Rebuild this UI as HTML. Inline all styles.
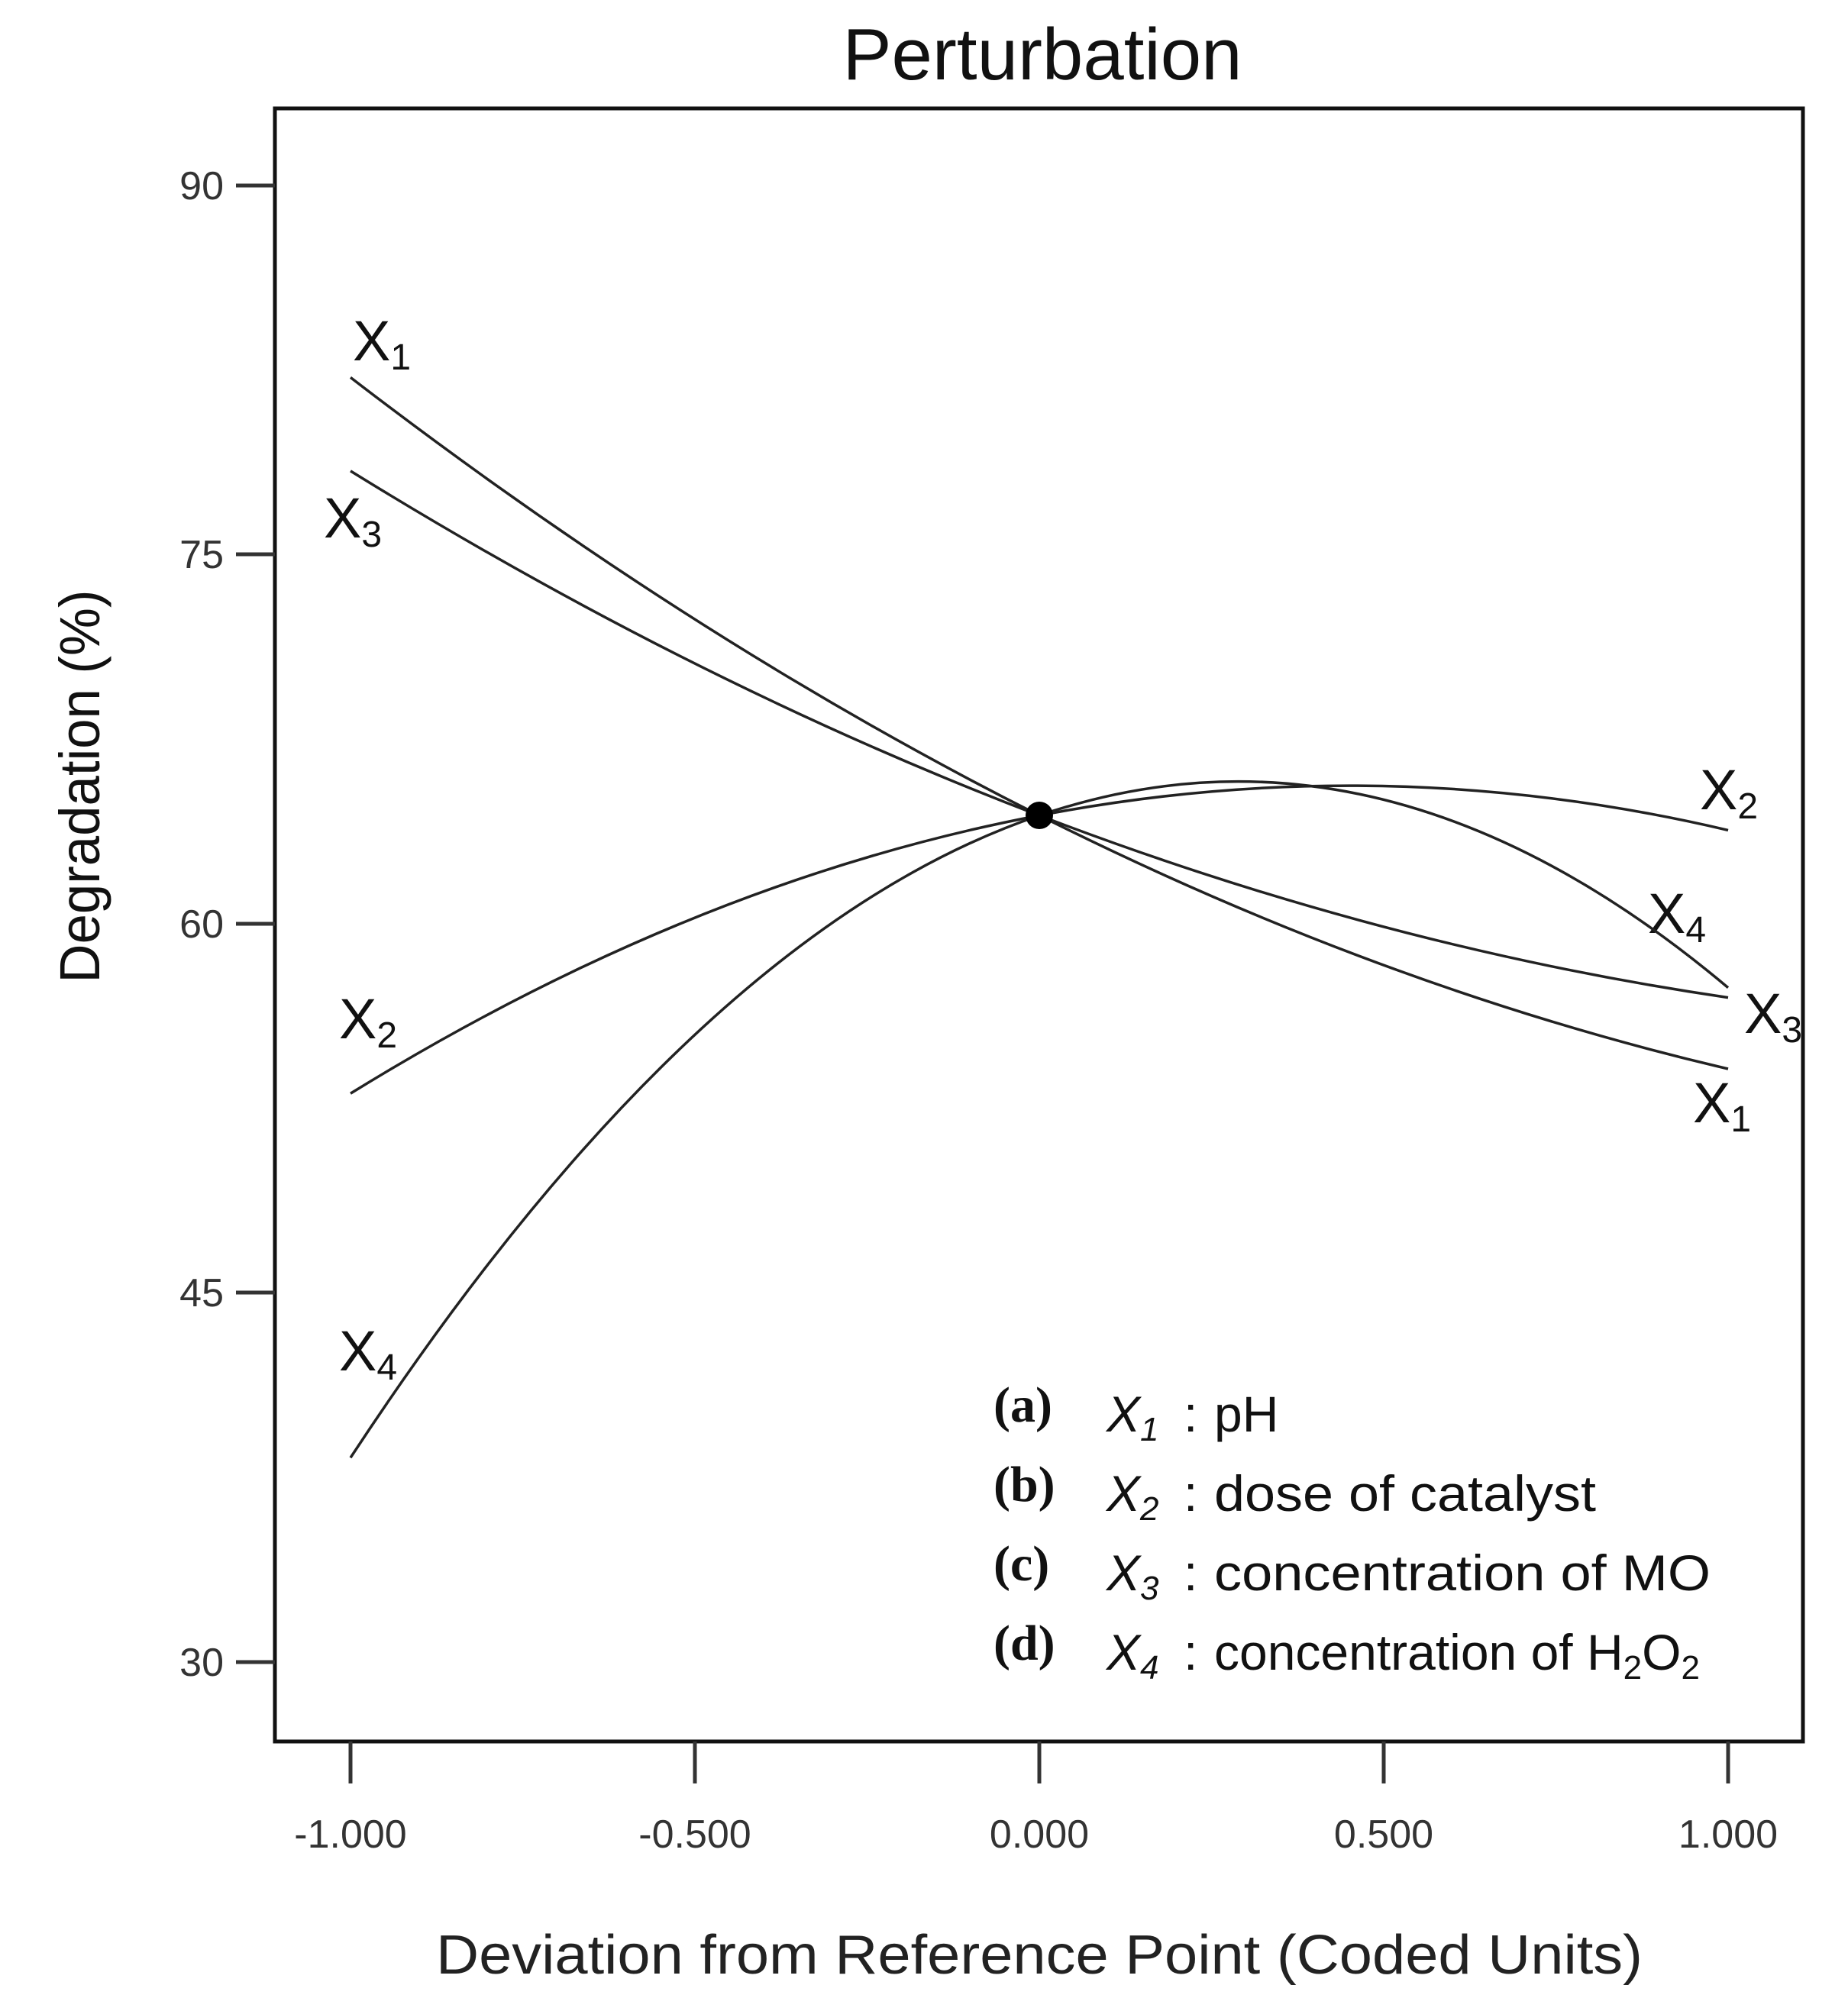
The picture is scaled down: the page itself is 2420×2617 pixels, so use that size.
<!DOCTYPE html>
<html><head><meta charset="utf-8"><style>html,body{margin:0;padding:0;background:#fff}svg{display:block}</style></head>
<body>
<svg width="2420" height="2617" viewBox="0 0 2420 2617" xmlns="http://www.w3.org/2000/svg" font-family="Liberation Sans, sans-serif">
<rect width="2420" height="2617" fill="#fff"/>
<text x="1365" y="104" font-size="96" text-anchor="middle" fill="#111">Perturbation</text>
<rect x="360" y="142" width="2001" height="2139" fill="none" stroke="#111" stroke-width="5"/>
<g stroke="#333" stroke-width="5">
<line x1="309" y1="243" x2="360" y2="243"/><line x1="309" y1="726" x2="360" y2="726"/>
<line x1="309" y1="1210" x2="360" y2="1210"/><line x1="309" y1="1693" x2="360" y2="1693"/>
<line x1="309" y1="2177" x2="360" y2="2177"/>
<line x1="459" y1="2281" x2="459" y2="2336"/><line x1="910" y1="2281" x2="910" y2="2336"/>
<line x1="1361" y1="2281" x2="1361" y2="2336"/><line x1="1812" y1="2281" x2="1812" y2="2336"/>
<line x1="2263" y1="2281" x2="2263" y2="2336"/>
</g>
<g font-size="52" fill="#333" text-anchor="end">
<text x="293" y="261">90</text><text x="293" y="744">75</text><text x="293" y="1228">60</text>
<text x="293" y="1711">45</text><text x="293" y="2195">30</text>
</g>
<g font-size="52" fill="#333" text-anchor="middle">
<text x="459" y="2420">-1.000</text><text x="910" y="2420">-0.500</text><text x="1361" y="2420">0.000</text>
<text x="1812" y="2420">0.500</text><text x="2263" y="2420">1.000</text>
</g>
<text x="1361" y="2585" font-size="72" fill="#222" text-anchor="middle" textLength="1580" lengthAdjust="spacingAndGlyphs">Deviation from Reference Point (Coded Units)</text>
<text transform="translate(130,1030) rotate(-90)" font-size="74" fill="#111" text-anchor="middle" textLength="515" lengthAdjust="spacingAndGlyphs">Degradation (%)</text>
<g font-size="74" fill="#111">
<text x="462" y="472">X<tspan font-size="48" dy="12">1</tspan></text>
<text x="424" y="704">X<tspan font-size="48" dy="12">3</tspan></text>
<text x="444" y="1360">X<tspan font-size="48" dy="12">2</tspan></text>
<text x="444" y="1795">X<tspan font-size="48" dy="12">4</tspan></text>
<text x="2226" y="1060">X<tspan font-size="48" dy="12">2</tspan></text>
<text x="2158" y="1222">X<tspan font-size="48" dy="12">4</tspan></text>
<text x="2284" y="1353">X<tspan font-size="48" dy="12">3</tspan></text>
<text x="2217" y="1470">X<tspan font-size="48" dy="12">1</tspan></text>
</g>
<g font-size="66" fill="#111">
<text x="1301" y="1862" font-family="Liberation Serif, serif" font-weight="bold">(a)</text>
<text x="1301" y="1966" font-family="Liberation Serif, serif" font-weight="bold">(b)</text>
<text x="1301" y="2070" font-family="Liberation Serif, serif" font-weight="bold">(c)</text>
<text x="1301" y="2174" font-family="Liberation Serif, serif" font-weight="bold">(d)</text>
<text x="1449" y="1875" font-style="italic">X<tspan font-size="44" dy="12">1</tspan></text>
<text x="1449" y="1979" font-style="italic">X<tspan font-size="44" dy="12">2</tspan></text>
<text x="1449" y="2083" font-style="italic">X<tspan font-size="44" dy="12">3</tspan></text>
<text x="1449" y="2187" font-style="italic">X<tspan font-size="44" dy="12">4</tspan></text>
<text x="1550" y="1875">:</text><text x="1550" y="1979">:</text><text x="1550" y="2083">:</text><text x="1550" y="2187">:</text>
<text x="1590" y="1875">pH</text>
<text x="1590" y="1979" textLength="500" lengthAdjust="spacingAndGlyphs">dose of catalyst</text>
<text x="1590" y="2083" textLength="650" lengthAdjust="spacingAndGlyphs">concentration of MO</text>
<text x="1590" y="2187">concentration of H<tspan font-size="44" dy="12">2</tspan><tspan dy="-12">O</tspan><tspan font-size="44" dy="12">2</tspan></text>
</g>
<g fill="none" stroke="#222" stroke-width="3.5">
<path d="M459,494.4 Q910,841.2 1361,1068.1 Q1812,1294.3 2263,1400"/>
<path d="M459,616.9 Q910,895.7 1361,1068.1 Q1812,1240.5 2263,1306.6"/>
<path d="M459,1432.3 Q910,1153.8 1361,1068.1 Q1812,981.4 2263,1087.4"/>
<path d="M459,1909.3 Q910,1221.8 1361,1068.1 Q1812,914 2263,1293.7"/>
</g>
<circle cx="1361" cy="1068" r="18" fill="#000"/>
</svg>
</body></html>
